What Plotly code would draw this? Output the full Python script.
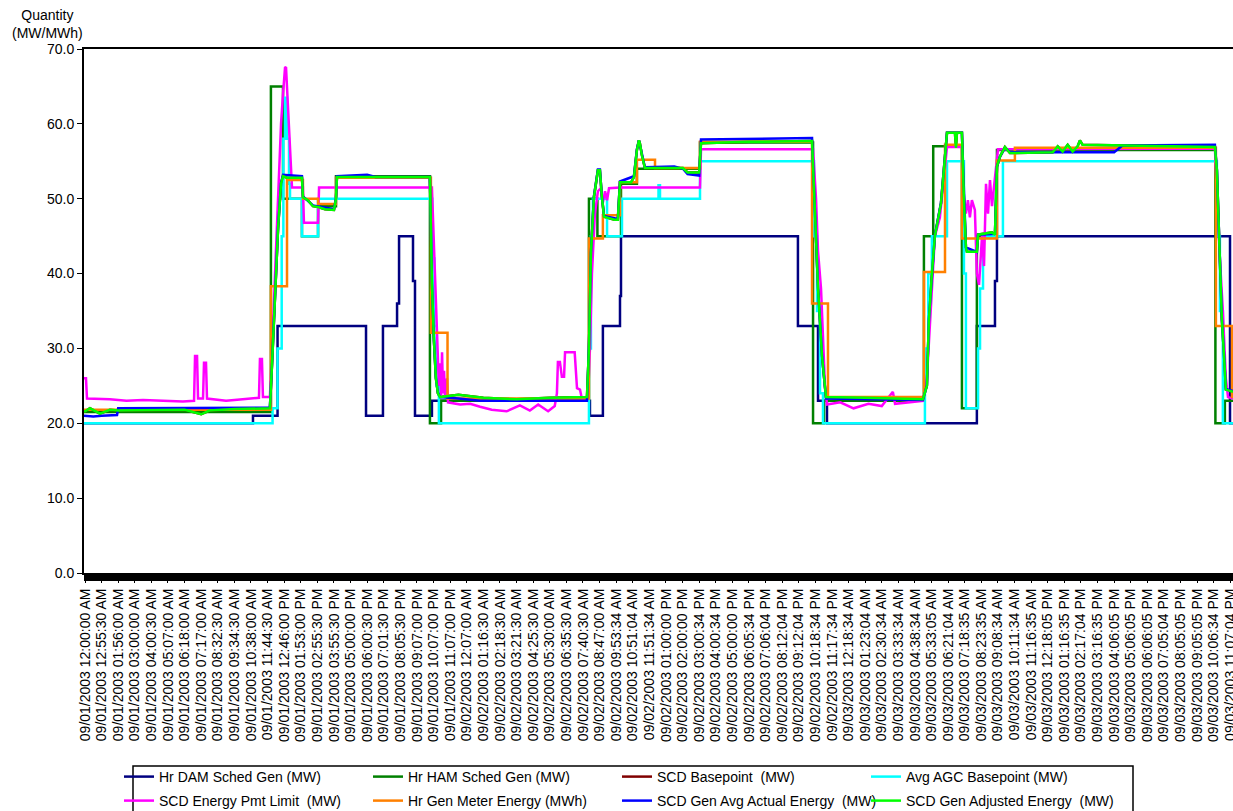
import plotly.graph_objects as go

# ---------------- tick labels (one per category tick) ----------------
tick_labels = [
    "09/01/2003 12:00:00 AM", "09/01/2003 12:55:30 AM", "09/01/2003 01:56:00 AM", "09/01/2003 03:00:00 AM",
    "09/01/2003 04:00:30 AM", "09/01/2003 05:07:00 AM", "09/01/2003 06:18:00 AM", "09/01/2003 07:17:00 AM",
    "09/01/2003 08:32:30 AM", "09/01/2003 09:34:30 AM", "09/01/2003 10:38:00 AM", "09/01/2003 11:44:30 AM",
    "09/01/2003 12:46:00 PM", "09/01/2003 01:53:00 PM", "09/01/2003 02:55:30 PM", "09/01/2003 03:55:30 PM",
    "09/01/2003 05:00:00 PM", "09/01/2003 06:00:30 PM", "09/01/2003 07:01:30 PM", "09/01/2003 08:05:30 PM",
    "09/01/2003 09:07:00 PM", "09/01/2003 10:07:00 PM", "09/01/2003 11:07:00 PM",
    "09/02/2003 12:07:00 AM", "09/02/2003 01:16:30 AM", "09/02/2003 02:18:30 AM", "09/02/2003 03:21:30 AM",
    "09/02/2003 04:25:30 AM", "09/02/2003 05:30:00 AM", "09/02/2003 06:35:30 AM", "09/02/2003 07:40:30 AM",
    "09/02/2003 08:47:00 AM", "09/02/2003 09:53:34 AM", "09/02/2003 10:51:04 AM", "09/02/2003 11:51:34 AM",
    "09/02/2003 01:00:00 PM", "09/02/2003 02:00:00 PM", "09/02/2003 03:00:34 PM", "09/02/2003 04:00:34 PM",
    "09/02/2003 05:00:00 PM", "09/02/2003 06:05:34 PM", "09/02/2003 07:06:04 PM", "09/02/2003 08:12:04 PM",
    "09/02/2003 09:12:04 PM", "09/02/2003 10:18:34 PM", "09/02/2003 11:17:34 PM",
    "09/03/2003 12:18:34 AM", "09/03/2003 01:23:04 AM", "09/03/2003 02:30:34 AM", "09/03/2003 03:33:34 AM",
    "09/03/2003 04:38:34 AM", "09/03/2003 05:33:05 AM", "09/03/2003 06:21:04 AM", "09/03/2003 07:18:35 AM",
    "09/03/2003 08:23:35 AM", "09/03/2003 09:08:34 AM", "09/03/2003 10:11:34 AM", "09/03/2003 11:16:35 AM",
    "09/03/2003 12:18:05 PM", "09/03/2003 01:16:35 PM", "09/03/2003 02:17:04 PM", "09/03/2003 03:16:35 PM",
    "09/03/2003 04:06:05 PM", "09/03/2003 05:06:05 PM", "09/03/2003 06:06:05 PM", "09/03/2003 07:05:04 PM",
    "09/03/2003 08:05:05 PM", "09/03/2003 09:05:05 PM", "09/03/2003 10:06:34 PM", "09/03/2003 11:07:04 PM",
]
tick_pos = list(range(len(tick_labels)))

# x values are positions on the category axis, in units of tick intervals
# ---------------- Hr DAM Sched Gen (MW)  (step: value holds from x onward) ----------------
dam_x = [-0.06, 10.12, 11.60, 16.93, 17.95, 18.80, 18.92, 19.76, 19.88, 20.90, 30.42, 31.20, 32.23, 32.29,
         42.95, 44.16, 44.70, 53.73, 54.82, 54.94, 68.98, 69.16]
dam_y = [20, 21, 33, 21, 33, 36, 45, 39, 21, 23, 21, 33, 37, 45,
         33, 23, 20, 33, 39, 45, 20, 20]

# ---------------- Hr HAM Sched Gen (MW)  (step) ----------------
ham_x = [-0.06, 11.20, 11.93, 13.07, 14.04, 15.12, 20.78, 21.45, 30.36, 30.87, 32.29, 33.25, 37.05,
         43.86, 44.52, 50.54, 51.10, 52.83, 53.73, 54.94, 68.10, 68.67, 69.16]
ham_y = [21.5, 65, 50, 45, 49, 53, 20, 23, 50, 45, 52, 54, 57.5,
         20, 23, 45, 57, 22, 45, 56.5, 20, 23, 23]

# ---------------- Avg AGC Basepoint (MW)  (step) ----------------
agc_x = [-0.06, 11.30, 11.60, 11.85, 11.95, 12.05, 12.17, 12.29, 12.35, 13.07, 14.04, 20.92, 21.05, 21.18,
         21.32, 30.36, 30.48, 30.60, 31.45, 32.35, 34.55, 34.64, 37.05, 43.92, 44.10, 44.28, 44.46,
         50.60, 50.80, 51.02, 51.93, 52.95, 53.07, 53.80, 53.92, 54.10, 55.30, 68.19, 68.37, 68.55, 69.16]
agc_y = [20, 22, 30, 45, 58, 63.5, 58, 52, 50, 45, 50, 42, 33, 25,
         20, 30, 45, 50, 45, 50, 51.8, 50, 55, 45, 35, 24, 20,
         30, 40, 45, 55, 40, 22, 30, 38, 45, 55, 45, 35, 20, 20]

# ---------------- SCD Energy Pmt Limit (MW) ----------------
pmt_x = [-0.06, 0.06, 0.12, 1.5, 2.5, 3.5, 5.9, 6.57, 6.63, 6.75, 6.81, 7.11, 7.17, 7.29, 7.35, 8.5, 9.5,
         10.48, 10.54, 10.66, 10.72, 11.14, 11.27, 11.45, 11.63, 11.81, 11.93, 12.05, 12.11, 12.17, 12.29,
         12.41, 12.47, 13.13, 13.19, 14.04, 14.10, 20.90, 21.02, 21.14, 21.26, 21.32, 21.39, 21.45, 21.51,
         21.57, 21.63, 21.69, 21.81, 21.87, 22.6, 23.2, 23.8, 24.5, 25.4, 26.2, 26.8, 27.3, 27.9, 28.3,
         28.43, 28.49, 28.61, 28.73, 28.86, 28.92, 29.5, 29.64, 29.82, 29.94, 30.30, 30.42, 30.54, 30.72,
         30.90, 31.08, 31.20, 31.33, 31.45, 31.57, 32.23, 37.05, 37.11, 43.86, 44.04, 44.16, 44.34, 44.46,
         44.58, 44.70, 45.5, 46.3, 47.2, 48.0, 48.67, 48.8, 49.6, 50.48, 50.72, 51.0, 51.2, 51.5, 51.81,
         51.93, 52.83, 52.95, 53.07, 53.19, 53.31, 53.43, 53.61, 53.73, 53.86, 54.04, 54.16, 54.28, 54.40,
         54.52, 54.64, 54.82, 55.0, 68.07, 68.19, 68.37, 68.55, 68.73, 68.86, 69.16]
pmt_y = [26, 26, 23.3, 23.2, 23.0, 23.1, 22.9, 23.0, 29, 29, 23.3, 23.3, 28.1, 28.1, 23.3, 23.0, 23.2,
         23.4, 28.6, 28.6, 23.5, 23.5, 30, 40, 52, 60, 64, 67.5, 67.6, 65, 61,
         55, 51.5, 51.5, 46.8, 46.8, 51.5, 51.5, 44, 37, 29, 25, 28, 23.5, 29.5,
         24, 27, 23.5, 26, 22.8, 22.5, 22.6, 22.2, 21.8, 21.6, 22.4, 21.7, 22.5, 21.6, 22.3,
         24, 28.2, 28.2, 26.2, 26.2, 29.5, 29.5, 24.7, 24.5, 23.2, 23.3, 30, 40, 48,
         51, 51.4, 49.5, 51, 49.8, 51.4, 51.5, 51.5, 56.6, 56.6, 50, 43, 38, 30,
         25, 22.5, 22.8, 22.0, 22.6, 22.3, 24.2, 22.6, 22.8, 23.0, 26, 38, 45, 47.5, 55,
         56.9, 56.9, 50, 48, 49.8, 47.5, 49.8, 48.5, 40, 38.5, 45, 41, 52, 48,
         52.5, 49, 53, 56.6, 56.7, 50, 42, 35, 26, 23.5, 23.3]

# ---------------- Hr Gen Meter Energy (MWh)  (step) ----------------
mtr_x = [-0.06, 11.20, 12.17, 13.13, 14.04, 15.12, 20.84, 21.84, 30.36, 31.20, 32.23, 33.25, 34.34,
         37.05, 43.80, 44.76, 50.54, 51.81, 52.83, 54.94, 56.02, 68.13, 69.10, 69.16]
mtr_y = [21.8, 38.3, 52.5, 50, 49.3, 52.8, 32.1, 23.3, 44.7, 47.8, 52.2, 55.2, 54.1,
         57.6, 36.0, 23.5, 40.2, 57.2, 44.7, 55.1, 56.8, 33, 23.5, 23.5]

# ---------------- SCD Gen Avg Actual Energy (MW) ----------------
act_x = [-0.06, 0.5, 1.0, 1.93, 2.0, 11.02, 11.14, 11.27, 11.45, 11.63, 11.81, 11.93, 13.07, 13.13, 13.73,
         14.04, 15.0, 15.12, 15.18, 17.0, 17.5, 20.78, 20.84, 20.90, 21.02, 21.14, 21.26, 21.39, 22.5, 23.8,
         30.24, 30.36, 30.48, 30.66, 30.90, 31.02, 31.14, 31.27, 32.10, 32.23, 33.07, 33.25, 33.37, 33.55,
         33.73, 35.5, 36.02, 36.3, 37.0, 37.11, 43.80, 43.98, 44.16, 44.40, 44.64, 50.48, 50.72, 50.84, 51.02,
         51.20, 51.57, 51.81, 51.93, 52.83, 52.95, 53.07, 53.73, 53.80, 54.82, 54.94, 55.12, 55.42, 55.72,
         62.0, 62.5, 68.07, 68.19, 68.37, 68.49, 68.61, 68.73, 69.16]
act_y = [21.0, 20.9, 21.0, 21.1, 22.0, 22.0, 22.1, 28.1, 38.1, 46.1, 52.1, 53.2, 53.0, 50.3, 49.1,
         49.0, 48.6, 50.1, 53.0, 53.2, 52.9, 52.9, 45.1, 38.8, 31.2, 26.1, 24.1, 23.5, 23.3, 23.0,
         23.0, 30.1, 42.8, 50.3, 53.9, 53.9, 50.3, 47.7, 47.3, 52.3, 53.0, 56.6, 57.8, 55.9,
         54.2, 54.3, 54.0, 53.3, 53.1, 57.9, 58.1, 48.1, 38.1, 29.1, 23.3, 23.1, 25.1, 33.9, 40.1,
         45.1, 49.5, 56.2, 58.8, 58.8, 50.1, 43.5, 42.9, 45.2, 45.3, 54.3, 55.6, 56.8, 56.2,
         56.2, 57.1, 57.2, 53.9, 42.8, 33.9, 29.5, 24.6, 24.3]

# ---------------- SCD Gen Adjusted Energy (MW) ----------------
adj_x = [-0.06, 0.3, 0.9, 1.5, 2.0, 4.0, 6.0, 7.0, 7.5, 9.0, 11.02, 11.14, 11.27, 11.45, 11.63, 11.81,
         11.93, 12.17, 13.07, 13.13, 13.43, 13.73, 14.04, 14.46, 15.0, 15.12, 15.18, 20.78, 20.84, 20.90,
         21.02, 21.14, 21.26, 21.39, 22.5, 24.0, 26.0, 28.0, 30.24, 30.36, 30.48, 30.66, 30.90, 31.02,
         31.14, 31.27, 31.90, 32.10, 32.23, 32.90, 33.07, 33.25, 33.37, 33.43, 33.55, 33.73, 36.02, 36.3,
         37.0, 37.11, 40.0, 43.80, 43.98, 44.16, 44.40, 44.64, 47.0, 50.48, 50.72, 50.84, 51.02, 51.20,
         51.57, 51.81, 51.93, 52.41, 52.47, 52.53, 52.83, 52.95, 53.07, 53.13, 53.73, 53.80, 54.64, 54.82,
         54.94, 55.12, 55.42, 55.72, 58.3, 58.6, 58.9, 59.2, 59.5, 59.8, 59.94, 60.1, 65.0, 68.07,
         68.19, 68.37, 68.49, 68.61, 68.73, 69.16]
adj_y = [21.5, 22.0, 21.3, 21.8, 21.7, 21.8, 21.8, 21.2, 21.7, 21.9, 21.9, 22, 28, 38, 46, 52,
         53, 52.8, 52.8, 50.2, 49.8, 49.0, 48.9, 48.6, 48.5, 50, 52.9, 52.9, 45, 38.7,
         31.1, 26, 24, 23.5, 23.8, 23.4, 23.2, 23.4, 23.5, 30, 42.7, 50.2, 53.8, 53.8,
         50.2, 47.6, 47.2, 47.2, 52.2, 52.2, 52.9, 56.5, 57.8, 57.4, 55.8, 54.1, 54.1, 53.5,
         53.5, 57.4, 57.6, 57.7, 48, 38, 29, 23.5, 23.4, 23.2, 25, 33.8, 40, 45,
         49.4, 56.1, 58.8, 58.8, 56.8, 58.8, 58.8, 50, 43.5, 42.9, 42.9, 45.2, 45.5, 45.2,
         54.3, 55.6, 56.9, 56.1, 56.2, 57.0, 56.3, 57.2, 56.3, 57.0, 57.8, 57.2, 57.0, 56.9,
         53.8, 42.7, 33.8, 29.4, 24.5, 24.2]

# ---------------- SCD Basepoint (MW)  (sampled at the same times as the adjusted energy) ----------------
bp_x = adj_x
bp_y = [21.5, 22.0, 21.3, 21.8, 21.7, 21.8, 21.8, 21.2, 21.7, 21.9, 21.9, 22, 28, 38, 46, 52,
        53, 52.8, 52.8, 50.2, 49.8, 49.0, 48.9, 48.6, 48.5, 50, 52.9, 52.9, 45, 38.7,
        31.1, 26, 24, 23.5, 23.8, 23.4, 23.2, 23.4, 23.5, 30, 42.7, 50.2, 53.8, 53.8,
        50.2, 47.6, 47.2, 47.2, 52.2, 52.2, 52.9, 56.5, 57.8, 57.4, 55.8, 54.1, 54.1, 53.5,
        53.5, 57.4, 57.6, 57.7, 48, 38, 29, 23.5, 23.4, 23.2, 25, 33.8, 40, 45,
        49.4, 56.1, 58.8, 58.8, 56.8, 58.8, 58.8, 50, 43.5, 42.9, 42.9, 45.2, 45.5, 45.2,
        54.3, 55.6, 56.9, 56.1, 56.2, 57.0, 56.3, 57.2, 56.3, 57.0, 57.8, 57.2, 57.0, 56.9,
        53.8, 42.7, 33.8, 29.4, 24.5, 24.2]

series = [
    ("Hr DAM Sched Gen (MW)", dam_x, dam_y, "#000080", "hv", "legend"),
    ("Hr HAM Sched Gen (MW)", ham_x, ham_y, "#008000", "hv", "legend"),
    ("SCD Basepoint  (MW)", bp_x, bp_y, "#800000", "linear", "legend"),
    ("Avg AGC Basepoint (MW)", agc_x, agc_y, "#00FFFF", "hv", "legend"),
    ("SCD Energy Pmt Limit  (MW)", pmt_x, pmt_y, "#FF00FF", "linear", "legend2"),
    ("Hr Gen Meter Energy (MWh)", mtr_x, mtr_y, "#FF8000", "hv", "legend2"),
    ("SCD Gen Avg Actual Energy  (MW)", act_x, act_y, "#0000FF", "linear", "legend2"),
    ("SCD Gen Adjusted Energy  (MW)", adj_x, adj_y, "#00FF00", "linear", "legend2"),
]

FONT = "Liberation Sans, Arial, sans-serif"

fig = go.Figure()
for name, xs, ys, color, shape, lg in series:
    fig.add_trace(go.Scatter(
        x=xs, y=ys, name=name, mode="lines",
        line=dict(color=color, width=2.5, shape=shape),
        legend=lg,
    ))

W, H = 1233, 811
ML, MT, MB = 84, 49, 238
plot_h = H - MT - MB
plot_w = W - ML


def px_x(p):
    return (p - ML) / plot_w


def px_y(p):
    return (H - MB - p) / plot_h


legend_common = dict(
    orientation="h", xanchor="left", yanchor="middle",
    bgcolor="rgba(0,0,0,0)", borderwidth=0,
    font=dict(family=FONT, size=14, color="black"),
    entrywidth=204, entrywidthmode="pixels",
    traceorder="normal",
)

fig.update_layout(
    width=W, height=H,
    margin=dict(l=ML, r=0, t=MT, b=MB, autoexpand=False),
    paper_bgcolor="white", plot_bgcolor="white",
    font=dict(family=FONT, size=14, color="black"),
    showlegend=True,
    legend=dict(x=px_x(119), y=px_y(777), **legend_common),
    legend2=dict(x=px_x(119), y=px_y(801), **legend_common),
    xaxis=dict(
        range=[-0.06, 69.16], tickmode="array", tickvals=tick_pos, ticktext=tick_labels,
        tickangle=-90, showgrid=False, zeroline=False,
        showline=True, mirror=True, linecolor="black", linewidth=2,
        ticks="outside", ticklen=8, tickcolor="black", ticklabeloverflow="allow",
        tickfont=dict(family=FONT, size=14, color="black"), automargin=False,
    ),
    yaxis=dict(
        range=[0, 70], dtick=10, tickformat=".1f", showgrid=False, zeroline=False,
        showline=True, mirror=False, linecolor="black", linewidth=2,
        ticks="outside", ticklen=5, tickcolor="black",
        tickfont=dict(family=FONT, size=14, color="black"), automargin=False,
    ),
    annotations=[dict(
        text="Quantity<br>(MW/MWh)", xref="paper", yref="paper",
        x=px_x(47.3), y=px_y(23.7), xanchor="center", yanchor="middle",
        showarrow=False, align="center", font=dict(family=FONT, size=14, color="black"),
    )],
    shapes=[
        dict(type="rect", xref="paper", yref="paper", x0=0, x1=1, y0=0, y1=px_y(581),
             fillcolor="black", line=dict(width=0), layer="above"),
        dict(type="rect", xref="paper", yref="paper", x0=px_x(133), x1=px_x(1133),
             y0=px_y(766), y1=px_y(830), fillcolor="rgba(0,0,0,0)",
             line=dict(color="black", width=1.5), layer="above"),
    ],
)

fig.write_html(
    "out.html",
    config={"displayModeBar": False},
    post_script="document.body.style.margin='0';document.documentElement.style.overflow='hidden';",
)
